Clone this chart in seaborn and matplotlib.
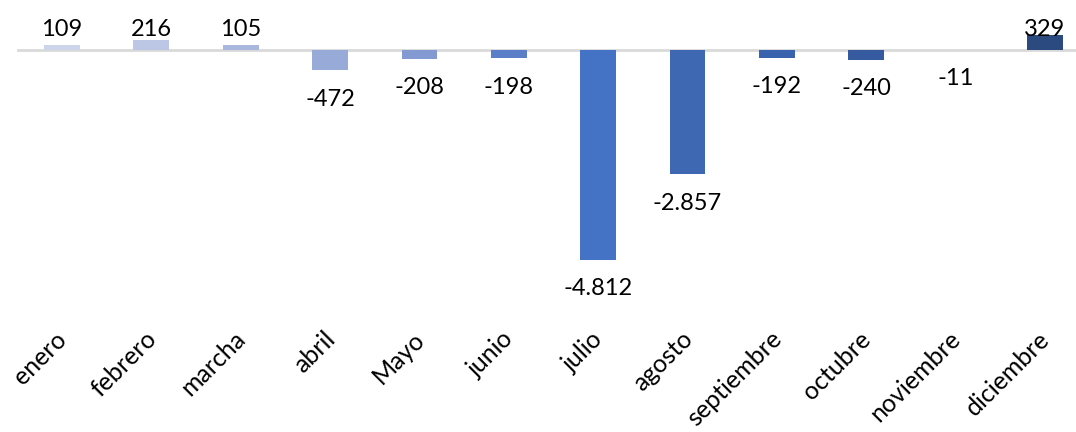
import matplotlib
matplotlib.use("Agg")
import matplotlib.pyplot as plt
import matplotlib.transforms as mtransforms
import seaborn as sns
import pandas as pd

months = ["enero", "febrero", "marcha", "abril", "Mayo", "junio", "julio",
          "agosto", "septiembre", "octubre", "noviembre", "diciembre"]
values = [109, 216, 105, -472, -208, -198, -4812, -2857, -192, -240, -11, 329]
labels = ["109", "216", "105", "-472", "-208", "-198", "-4.812", "-2.857",
          "-192", "-240", "-11", "329"]
colors = ["#cdd5ea", "#bcc7e5", "#a9b7df", "#98aad7", "#8299d2", "#5a7ec8",
          "#4472c4", "#3f68b3", "#3a63af", "#355aa0", "#30509a", "#2b4a80"]

sns.set_theme(style="white")
plt.rcParams["font.family"] = ["Lato", "DejaVu Sans"]

W, H = 1076, 432
fig = plt.figure(figsize=(W / 100, H / 100), dpi=100)
ax_left = 17.3 / W
ax_width = 12 * 89.36 / W
ax_top_px = 0
ax_bot_px = 330
ax = fig.add_axes([ax_left, 1 - ax_bot_px / H, ax_width, (ax_bot_px - ax_top_px) / H])

df = pd.DataFrame({"mes": months, "valor": values})
sns.barplot(data=df, x="mes", y="valor", hue="mes", palette=colors,
            legend=False, width=0.4, ax=ax, saturation=1, linewidth=0)

scale = (260 - 49.5) / 4812.0
ax.set_xlim(-0.5, 11.5)
ax.set_ylim(-(ax_bot_px - 49.5) / scale, 49.5 / scale)
ax.axhline(0, color="#d9d9d9", lw=2, zorder=0)

for s in ax.spines.values():
    s.set_visible(False)
ax.set_yticks([])
ax.set_xlabel("")
ax.set_ylabel("")
ax.set_xticks(range(len(months)))
ax.set_xticklabels(months, rotation=45, ha="right", rotation_mode="anchor",
                   fontsize=18, color="#000000")
ax.tick_params(axis="x", length=0, pad=-2)
shift = mtransforms.ScaledTranslation(-7 / 100, 0, fig.dpi_scale_trans)
for t in ax.get_xticklabels():
    t.set_transform(t.get_transform() + shift)

trans = mtransforms.blended_transform_factory(ax.transData, ax.transAxes)
for i, (v, lab) in enumerate(zip(values, labels)):
    if v >= 0:
        ax.text(i, 1 - 29 / ax_bot_px, lab, transform=trans, ha="center",
                va="center", fontsize=17, color="#000000")
    else:
        ax.annotate(lab, (i, v), xytext=(0, -29 * 0.72), textcoords="offset points",
                    ha="center", va="center", fontsize=17, color="#000000")

fig.savefig("out.png", dpi=100)
